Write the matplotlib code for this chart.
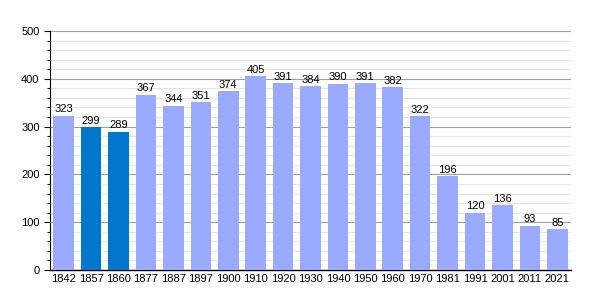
import matplotlib
matplotlib.use("Agg")
import matplotlib.pyplot as plt
from matplotlib.ticker import MultipleLocator

years = ["1842", "1857", "1860", "1877", "1887", "1897", "1900", "1910", "1920", "1930",
         "1940", "1950", "1960", "1970", "1981", "1991", "2001", "2011", "2021"]
population = [323, 299, 289, 367, 344, 351, 374, 405, 391, 384, 390, 391, 382, 322, 196, 120, 136, 93, 85]
highlight = ["1857", "1860"]

plt.rcParams['font.family'] = ['Liberation Sans', 'DejaVu Sans']

fig = plt.figure(figsize=(6, 3), dpi=100)
ax = fig.add_axes([0.0833, 0.1, 0.8684, 0.7967])

light = "#99aaff"
dark = "#0077cc"
colors = [dark if y in highlight else light for y in years]
x = list(range(len(years)))
ax.bar(x, population, width=0.75, color=colors, zorder=3)
for xi, v in zip(x, population):
    ax.text(xi, v + 3, str(v), ha="center", va="bottom", fontsize=8, color="#000000", zorder=4)

ax.set_xlim(-0.5, len(years) - 0.5)
ax.set_ylim(0, 500)
ax.yaxis.set_major_locator(MultipleLocator(100))
ax.yaxis.set_minor_locator(MultipleLocator(20))
ax.grid(axis="y", which="major", color="#a0a0a0", linewidth=0.8, zorder=1)
ax.grid(axis="y", which="minor", color="#e4e4e4", linewidth=0.8, zorder=0)
ax.set_xticks(x)
ax.set_xticklabels(years, fontsize=8)
ax.tick_params(axis="x", length=0, pad=3)
ax.tick_params(axis="y", which="major", length=4, labelsize=8, width=0.8)
ax.tick_params(axis="y", which="minor", length=2.5, width=0.8)
for s in ["top", "right"]:
    ax.spines[s].set_visible(False)
ax.spines["left"].set_linewidth(0.8)
ax.spines["bottom"].set_linewidth(1.0)

fig.savefig("out.png", dpi=100)
